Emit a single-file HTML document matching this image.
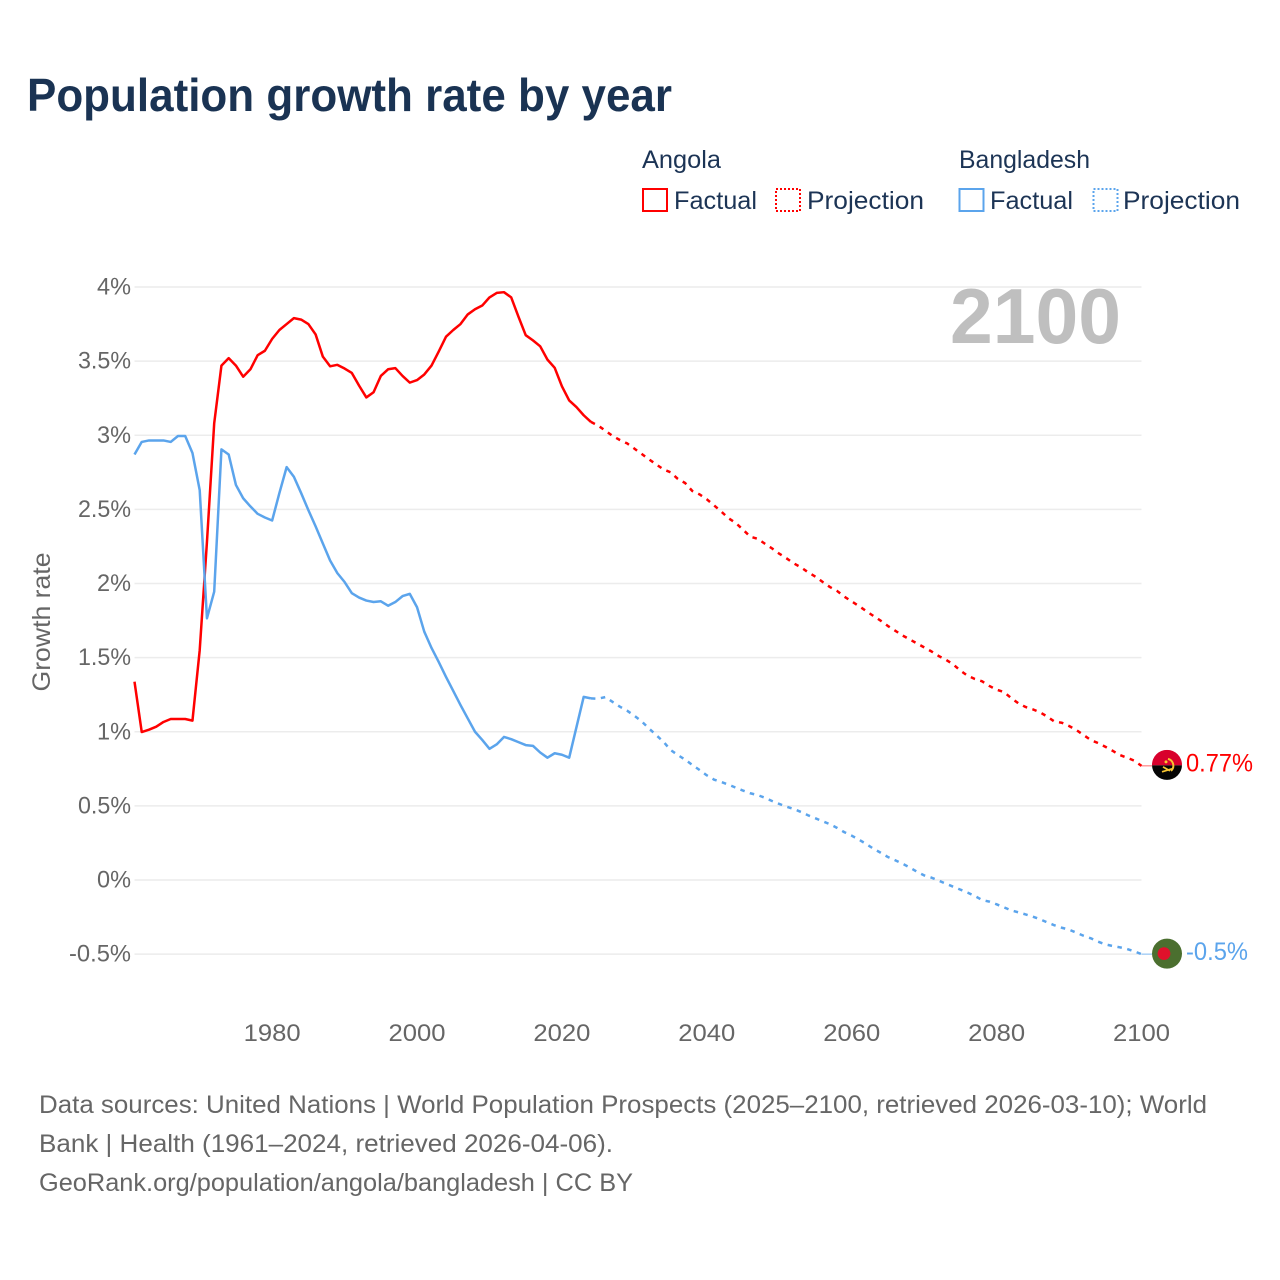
<!DOCTYPE html>
<html lang="en">
<head>
<meta charset="utf-8">
<title>Population growth rate by year</title>
<style>
html,body{margin:0;padding:0;background:#fff;width:1280px;height:1280px;overflow:hidden}
svg{display:block}
text{font-family:"Liberation Sans",Arial,sans-serif}
.leg{font-size:25px;fill:#1c3455}
.foot{font-size:25px;fill:#666}
.tick{font-size:24px;fill:#666}
</style>
</head>
<body>
<svg id="chart" xmlns="http://www.w3.org/2000/svg" width="1280" height="1280" viewBox="0 0 1280 1280">
  <rect x="0" y="0" width="1280" height="1280" fill="#fff"/>
  <text x="27" y="111" font-size="46" font-weight="700" fill="#1a3353" textLength="645" lengthAdjust="spacingAndGlyphs">Population growth rate by year</text>

  <g>
    <text class="leg" x="642" y="168" textLength="79" lengthAdjust="spacingAndGlyphs">Angola</text>
    <text class="leg" x="959" y="168" textLength="131" lengthAdjust="spacingAndGlyphs">Bangladesh</text>
    <rect x="643" y="189" width="24" height="22" fill="none" stroke="#ff0000" stroke-width="2"/>
    <text class="leg" x="674" y="209" textLength="83" lengthAdjust="spacingAndGlyphs">Factual</text>
    <rect x="776" y="189" width="24" height="22" fill="none" stroke="#ff0000" stroke-width="2" stroke-dasharray="2 2"/>
    <text class="leg" x="807" y="209" textLength="117" lengthAdjust="spacingAndGlyphs">Projection</text>
    <rect x="959.5" y="189" width="24" height="22" fill="none" stroke="#5ba4ec" stroke-width="2"/>
    <text class="leg" x="990" y="209" textLength="83" lengthAdjust="spacingAndGlyphs">Factual</text>
    <rect x="1093.5" y="189" width="24" height="22" fill="none" stroke="#5ba4ec" stroke-width="2" stroke-dasharray="2 2"/>
    <text class="leg" x="1123" y="209" textLength="117" lengthAdjust="spacingAndGlyphs">Projection</text>
  </g>

  <g id="grid"></g>
  <g id="yticks"></g>
  <g id="xticks"></g>
  <text transform="translate(50,622) rotate(-90)" text-anchor="middle" font-size="25" fill="#666" textLength="139" lengthAdjust="spacingAndGlyphs">Growth rate</text>
  <text x="950" y="343" font-size="78" font-weight="700" fill="#bfbfbf" textLength="171" lengthAdjust="spacingAndGlyphs">2100</text>
  <g id="series"></g>

  <g id="flag-angola">
    <clipPath id="clip-ao"><circle cx="0" cy="0" r="15"/></clipPath>
    <g clip-path="url(#clip-ao)">
      <rect x="-15" y="-15" width="30" height="15.5" fill="#d8002c"/>
      <rect x="-15" y="0.5" width="30" height="15" fill="#050505"/>
      <path d="M1-6 A7 7 0 0 1 4 6" fill="none" stroke="#f7c531" stroke-width="2"/>
      <path d="M-5 7 L5 4 M-4 2 L3 6" fill="none" stroke="#f7c531" stroke-width="1.7"/>
      <circle cx="-1" cy="-3" r="1.5" fill="#f7c531"/>
    </g>
  </g>
  <g id="flag-bangladesh">
    <circle cx="0" cy="0" r="15" fill="#4b6f2f"/>
    <circle cx="-3" cy="0" r="6.4" fill="#e0112b"/>
  </g>

  <g>
    <text class="foot" x="39" y="1113" textLength="1168" lengthAdjust="spacingAndGlyphs">Data sources: United Nations | World Population Prospects (2025–2100, retrieved 2026-03-10); World</text>
    <text class="foot" x="39" y="1152" textLength="574" lengthAdjust="spacingAndGlyphs">Bank | Health (1961–2024, retrieved 2026-04-06).</text>
    <text class="foot" x="39" y="1191" textLength="594" lengthAdjust="spacingAndGlyphs">GeoRank.org/population/angola/bangladesh | CC BY</text>
  </g>
</svg>
<script>
const yTicks = [4, 3.5, 3, 2.5, 2, 1.5, 1, 0.5, 0, -0.5];
const xTicks = [1980, 2000, 2020, 2040, 2060, 2080, 2100];
const factualStartYear = 1961;
const projectionStartYear = 2024;
const angolaFactual = [1.338,0.998,1.014,1.034,1.066,1.086,1.086,1.086,1.075,1.55,2.28,3.08,3.47,3.52,3.47,3.395,3.445,3.54,3.57,3.65,3.71,3.75,3.79,3.78,3.75,3.68,3.53,3.465,3.475,3.45,3.42,3.335,3.255,3.29,3.40,3.445,3.453,3.40,3.355,3.372,3.41,3.47,3.565,3.665,3.71,3.75,3.815,3.85,3.875,3.93,3.96,3.965,3.93,3.80,3.675,3.64,3.60,3.51,3.455,3.33,3.235,3.19,3.135,3.09];
const angolaProjection = [3.09,3.065,3.031,2.995,2.968,2.945,2.91,2.874,2.838,2.804,2.77,2.75,2.705,2.678,2.624,2.601,2.568,2.527,2.485,2.44,2.408,2.363,2.316,2.302,2.269,2.237,2.201,2.17,2.136,2.109,2.075,2.046,2.01,1.976,1.949,1.911,1.879,1.848,1.814,1.781,1.749,1.713,1.682,1.65,1.623,1.596,1.569,1.542,1.511,1.486,1.455,1.412,1.378,1.356,1.34,1.309,1.284,1.268,1.228,1.192,1.167,1.151,1.131,1.102,1.068,1.061,1.039,1.012,0.978,0.944,0.924,0.899,0.872,0.843,0.825,0.805,0.77];
const bangladeshFactual = [2.87,2.955,2.965,2.965,2.965,2.955,2.995,2.995,2.88,2.63,1.765,1.945,2.905,2.87,2.665,2.575,2.52,2.47,2.445,2.425,2.61,2.785,2.72,2.61,2.495,2.385,2.27,2.155,2.07,2.01,1.935,1.905,1.885,1.875,1.88,1.85,1.875,1.915,1.93,1.84,1.675,1.565,1.47,1.37,1.275,1.18,1.09,1.0,0.945,0.885,0.915,0.965,0.95,0.93,0.91,0.905,0.86,0.825,0.855,0.845,0.825,1.03,1.235,1.225];
const bangladeshProjection = [1.225,1.223,1.234,1.201,1.169,1.142,1.108,1.07,1.023,0.978,0.933,0.877,0.843,0.812,0.776,0.742,0.706,0.677,0.661,0.643,0.623,0.603,0.585,0.573,0.555,0.533,0.513,0.495,0.479,0.459,0.436,0.416,0.396,0.376,0.351,0.322,0.299,0.272,0.243,0.211,0.184,0.155,0.133,0.11,0.085,0.056,0.031,0.016,-0.004,-0.025,-0.045,-0.065,-0.085,-0.108,-0.135,-0.146,-0.164,-0.184,-0.205,-0.218,-0.232,-0.247,-0.265,-0.286,-0.306,-0.322,-0.335,-0.355,-0.376,-0.393,-0.416,-0.434,-0.445,-0.454,-0.465,-0.481,-0.5];

const SVGNS = 'http://www.w3.org/2000/svg';
function xScale(year) { return 134.5 + (year - 1961) * (1141.5 - 134.5) / (2100 - 1961); }
function yScale(value) { return 880 - value * 148.25; }
function make(tag, parent, attrs) {
  const el = document.createElementNS(SVGNS, tag);
  for (const k in attrs) el.setAttribute(k, attrs[k]);
  parent.appendChild(el);
  return el;
}
function linePath(values, startYear) {
  return values.map((v, i) => (i ? 'L' : 'M') + xScale(startYear + i).toFixed(2) + ' ' + yScale(v).toFixed(2)).join(' ');
}
function labelWidth(s) {
  let w = 0;
  for (const c of s) w += c === '%' ? 20 : c === '.' ? 5 : c === '-' ? 9 : 14;
  return w;
}

const grid = document.getElementById('grid');
const yG = document.getElementById('yticks');
const xG = document.getElementById('xticks');
const seriesG = document.getElementById('series');

yTicks.forEach(function (v) {
  const line = make('line', grid, { x1: xScale(1961), x2: xScale(2100), y1: yScale(v), y2: yScale(v), stroke: '#ececec', 'stroke-width': 1.5 });
  
  
  const s = v + '%';
  const t = make('text', yG, { x: 131, y: yScale(v) + 7.5, 'text-anchor': 'end', class: 'tick', textLength: labelWidth(s), lengthAdjust: 'spacingAndGlyphs' });
  t.textContent = s;
  
  
});

xTicks.forEach(function (yr) {
  const t = make('text', xG, { x: xScale(yr), y: 1041, 'text-anchor': 'middle', class: 'tick', textLength: 57, lengthAdjust: 'spacingAndGlyphs' });
  t.textContent = String(yr);
  
  
});

const base = { fill: 'none', 'stroke-width': 2.5, 'stroke-linejoin': 'round' };

const angolaLine = make('path', seriesG, Object.assign({ d: linePath(angolaFactual, factualStartYear), stroke: '#ff0000' }, base));



const angolaProj = make('path', seriesG, Object.assign({ d: linePath(angolaProjection, projectionStartYear), stroke: '#ff0000', 'stroke-dasharray': '4.5 5.5' }, base));



const bangladeshLine = make('path', seriesG, Object.assign({ d: linePath(bangladeshFactual, factualStartYear), stroke: '#5ba4ec' }, base));



const bangladeshProj = make('path', seriesG, Object.assign({ d: linePath(bangladeshProjection, projectionStartYear), stroke: '#5ba4ec', 'stroke-dasharray': '4.5 5.5' }, base));



const aoEnd = angolaProjection[angolaProjection.length - 1];
const bdEnd = bangladeshProjection[bangladeshProjection.length - 1];

const aoLeader = make('line', seriesG, { x1: xScale(2100), x2: 1152, y1: yScale(aoEnd), y2: yScale(aoEnd), stroke: '#ff6a6a', 'stroke-width': 1 });



const bdLeader = make('line', seriesG, { x1: xScale(2100), x2: 1152, y1: yScale(bdEnd), y2: yScale(bdEnd), stroke: '#7db8f0', 'stroke-width': 1 });



document.getElementById('flag-angola').setAttribute('transform', 'translate(1167,' + (yScale(aoEnd) - 1) + ')');
document.getElementById('flag-bangladesh').setAttribute('transform', 'translate(1167,' + (yScale(bdEnd) - 0.5) + ')');

const aoLabel = make('text', seriesG, { x: 1186, y: yScale(aoEnd) + 5.5, 'font-size': 25, fill: '#ff0000', textLength: 67, lengthAdjust: 'spacingAndGlyphs' });
aoLabel.textContent = aoEnd + '%';



const bdLabel = make('text', seriesG, { x: 1186, y: yScale(bdEnd) + 6, 'font-size': 25, fill: '#5ba4ec', textLength: 62, lengthAdjust: 'spacingAndGlyphs' });
bdLabel.textContent = bdEnd + '%';


</script>
</body>
</html>
